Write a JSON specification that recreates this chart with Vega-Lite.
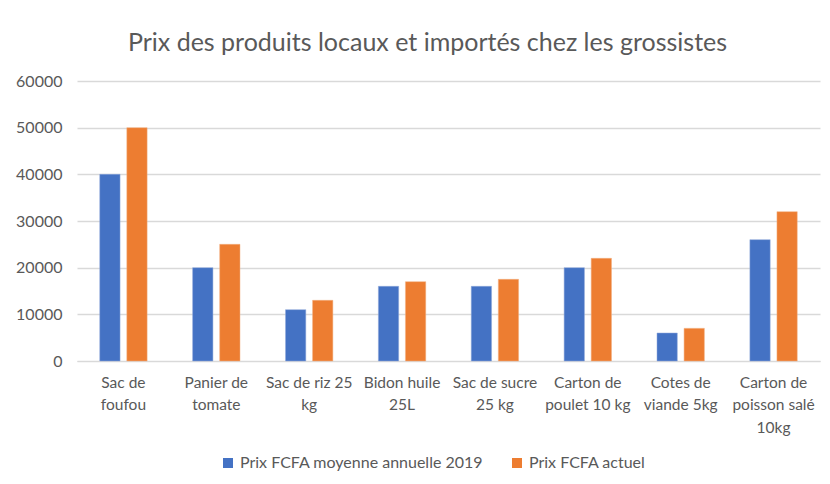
{
  "$schema": "https://vega.github.io/schema/vega-lite/v6.json",
  "width": 743,
  "height": 280,
  "autosize": {"type": "none"},
  "padding": {"left": 77, "top": 81, "right": 10, "bottom": 123},
  "background": "white",
  "title": {
    "text": "Prix des produits locaux et importés chez les grossistes",
    "fontSize": 25,
    "font": "Lato",
    "fontWeight": "normal",
    "color": "#595959",
    "anchor": "middle",
    "dx": -21,
    "offset": 17
  },
  "data": {
    "values": [
      {"produit": "Sac de foufou", "serie": "Prix FCFA moyenne annuelle 2019", "prix": 40000},
      {"produit": "Sac de foufou", "serie": "Prix FCFA actuel", "prix": 50000},
      {"produit": "Panier de tomate", "serie": "Prix FCFA moyenne annuelle 2019", "prix": 20000},
      {"produit": "Panier de tomate", "serie": "Prix FCFA actuel", "prix": 25000},
      {"produit": "Sac de riz 25 kg", "serie": "Prix FCFA moyenne annuelle 2019", "prix": 11000},
      {"produit": "Sac de riz 25 kg", "serie": "Prix FCFA actuel", "prix": 13000},
      {"produit": "Bidon huile 25L", "serie": "Prix FCFA moyenne annuelle 2019", "prix": 16000},
      {"produit": "Bidon huile 25L", "serie": "Prix FCFA actuel", "prix": 17000},
      {"produit": "Sac de sucre 25 kg", "serie": "Prix FCFA moyenne annuelle 2019", "prix": 16000},
      {"produit": "Sac de sucre 25 kg", "serie": "Prix FCFA actuel", "prix": 17500},
      {"produit": "Carton de poulet 10 kg", "serie": "Prix FCFA moyenne annuelle 2019", "prix": 20000},
      {"produit": "Carton de poulet 10 kg", "serie": "Prix FCFA actuel", "prix": 22000},
      {"produit": "Cotes de viande 5kg", "serie": "Prix FCFA moyenne annuelle 2019", "prix": 6000},
      {"produit": "Cotes de viande 5kg", "serie": "Prix FCFA actuel", "prix": 7000},
      {"produit": "Carton de poisson salé 10kg", "serie": "Prix FCFA moyenne annuelle 2019", "prix": 26000},
      {"produit": "Carton de poisson salé 10kg", "serie": "Prix FCFA actuel", "prix": 32000}
    ]
  },
  "mark": {"type": "bar", "strokeWidth": 1, "strokeOpacity": 0.5},
  "encoding": {
    "x": {
      "field": "produit",
      "type": "nominal",
      "sort": null,
      "scale": {"paddingInner": 0.49, "paddingOuter": 0.245},
      "axis": {
        "title": null,
        "labelAngle": 0,
        "ticks": false,
        "domainColor": "#D9D9D9",
        "labelFontSize": 15.5,
        "labelPadding": 14,
        "labelLineHeight": 22.5,
        "labelOverlap": false,
        "labelLimit": 200,
        "labelExpr": "({'Sac de foufou': ['Sac de', 'foufou'], 'Panier de tomate': ['Panier de', 'tomate'], 'Sac de riz 25 kg': ['Sac de riz 25', 'kg'], 'Bidon huile 25L': ['Bidon huile', '25L'], 'Sac de sucre 25 kg': ['Sac de sucre', '25 kg'], 'Carton de poulet 10 kg': ['Carton de', 'poulet 10 kg'], 'Cotes de viande 5kg': ['Cotes de', 'viande 5kg'], 'Carton de poisson salé 10kg': ['Carton de', 'poisson salé', '10kg']})[datum.value]"
      }
    },
    "xOffset": {
      "field": "serie",
      "type": "nominal",
      "sort": ["Prix FCFA moyenne annuelle 2019", "Prix FCFA actuel"],
      "scale": {"paddingInner": 0.25}
    },
    "y": {
      "field": "prix",
      "type": "quantitative",
      "scale": {"domain": [0, 60000]},
      "axis": {
        "title": null,
        "values": [0, 10000, 20000, 30000, 40000, 50000, 60000],
        "format": "d",
        "domain": false,
        "ticks": false,
        "labelFontSize": 16,
        "labelPadding": 15,
        "labelOverlap": false,
        "gridColor": "#D9D9D9",
        "gridWidth": 1.3
      }
    },
    "color": {
      "field": "serie",
      "type": "nominal",
      "sort": ["Prix FCFA moyenne annuelle 2019", "Prix FCFA actuel"],
      "scale": {"range": ["#4472C4", "#ED7D31"]},
      "legend": {
        "title": null,
        "orient": "none",
        "legendX": 143,
        "legendY": 374,
        "direction": "horizontal",
        "symbolType": "square",
        "symbolSize": 100,
        "symbolStrokeWidth": 0,
        "labelFontSize": 16,
        "labelOffset": 4,
        "labelLimit": 400,
        "columnPadding": 25
      }
    },
    "stroke": {
      "field": "serie",
      "type": "nominal",
      "sort": ["Prix FCFA moyenne annuelle 2019", "Prix FCFA actuel"],
      "scale": {"range": ["#8FAADC", "#F4B183"]},
      "legend": null
    }
  },
  "config": {
    "view": {"stroke": null},
    "font": "Lato",
    "axis": {"labelColor": "#595959", "labelFont": "Lato"},
    "legend": {"labelColor": "#595959", "labelFont": "Lato"}
  }
}
